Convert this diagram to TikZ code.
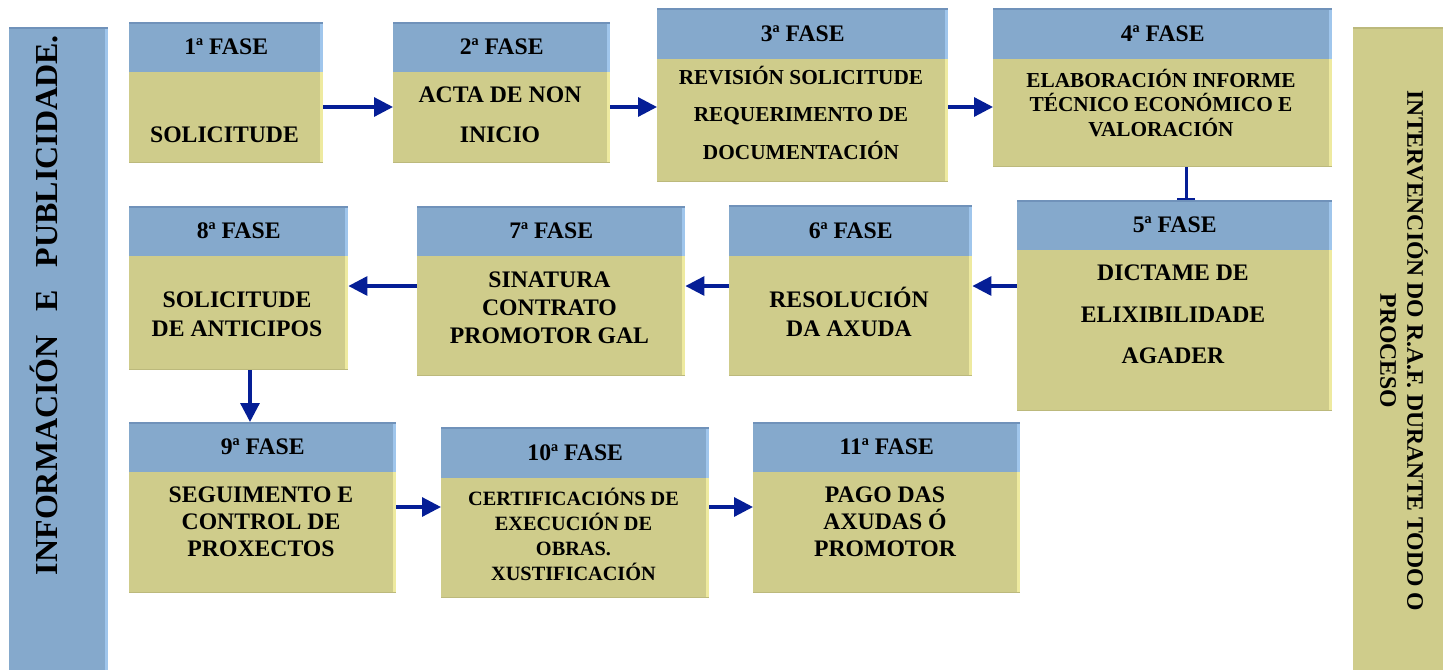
\documentclass[tikz,border=0pt]{standalone}
\usepackage{fontspec}
\setmainfont{Liberation Serif}
\usetikzlibrary{arrows.meta}
\definecolor{hblue}{RGB}{133,169,204}
\definecolor{hbluel}{RGB}{160,198,236}
\definecolor{hblued}{RGB}{112,146,186}
\definecolor{byel}{RGB}{207,204,139}
\definecolor{byell}{RGB}{238,234,160}
\definecolor{byeld}{RGB}{188,185,124}
\definecolor{arrblue}{RGB}{5,30,150}
\newcommand\hfont{\bfseries\fontsize{23.7}{27}\selectfont}
\tikzset{
  hdr/.style={anchor=north west, inner sep=0pt, fill=hblue, text height=15.5pt, text depth=0pt,
    path picture={
      \fill[hbluel] ([xshift=-3pt]path picture bounding box.north east) rectangle (path picture bounding box.south east);
      \fill[hblued] (path picture bounding box.north west) rectangle ([yshift=-1.5pt]path picture bounding box.north east);}},
  bdy/.style={anchor=north west, inner sep=0pt, fill=byel,
    path picture={
      \fill[byell] ([xshift=-3pt]path picture bounding box.north east) rectangle (path picture bounding box.south east);
      \fill[byeld] (path picture bounding box.south west) rectangle ([yshift=1.5pt]path picture bounding box.south east);}},
  lbl/.style={anchor=base, inner sep=0pt},
  arr/.style={draw=arrblue, line width=3.2pt, -{Triangle[length=19pt,width=19pt]}},
  arrbar/.style={draw=arrblue, line width=3pt, -{Bar[width=18pt,line width=2.4pt]}}
}
% name, x1, header top, header bottom, body bottom, x2
\newcommand\fasebox[6]{%
  \node[bdy, minimum width={#6-#2}, minimum height={#5-#4}] (b#1) at (#2,#4) {};
  \node[hdr, minimum width={#6-#2}, minimum height={#4-#3}] (h#1) at (#2,#3) {\hfont #1ª FASE};
}
% name, x, first baseline, skip, font size, lines
\newcommand\blines[6]{%
  \foreach \l [count=\i] in {#6} {\node[lbl, font=\bfseries\fontsize{#5}{#5}\selectfont] (#1-\i) at (#2,{#3+(\i-1)*#4}) {\l};}
}
\begin{document}
\begin{tikzpicture}[x=1pt,y=-1pt]
\useasboundingbox (0,0) rectangle (1443,670);
% side panels
\node[anchor=north west, inner sep=0pt, fill=hblue, minimum width=99pt, minimum height=643pt,
  path picture={\fill[hbluel] ([xshift=-3pt]path picture bounding box.north east) rectangle (path picture bounding box.south east);
  \fill[hblued] (path picture bounding box.north west) rectangle ([yshift=-1.5pt]path picture bounding box.north east);}] (lp) at (9,27) {};
\node[anchor=north west, inner sep=0pt, fill=byel, minimum width=90pt, minimum height=643pt,
  path picture={\fill[byeld] (path picture bounding box.north west) rectangle ([yshift=-1.5pt]path picture bounding box.north east);}] (rp) at (1353,27) {};
\node[rotate=90, anchor=base, inner sep=0pt] (lt) at (57.5,305)
  {\bfseries\fontsize{32}{32}\selectfont\hbox to 540pt{INFORMACIÓN\hfill E\hfill PUBLICIDADE.}};
\node[rotate=-90, anchor=base, inner sep=0pt, font=\hfont] (rt1) at (1407.25,351) {INTERVENCIÓN DO R.A.F. DURANTE TODO O};
\node[rotate=-90, anchor=base, inner sep=0pt, font=\hfont] (rt2) at (1380.25,351) {PROCESO};
% boxes
\fasebox{1}{129}{22}{72}{163}{323}
\fasebox{2}{393}{22}{72}{163}{610}
\fasebox{3}{657}{8}{59}{182}{948}
\fasebox{4}{993}{8}{59}{167}{1332}
\fasebox{5}{1017}{200}{250}{411}{1332}
\fasebox{6}{729}{205}{256}{376}{972}
\fasebox{7}{417}{206}{256}{376}{685}
\fasebox{8}{129}{206}{256}{370}{348}
\fasebox{9}{129}{422}{472}{593}{396}
\fasebox{10}{441}{427}{478}{598}{709}
\fasebox{11}{753}{422}{472}{593}{1020}
% texts
\blines{t1}{224.5}{142.75}{40}{23.7}{SOLICITUDE}
\blines{t2}{500}{102.75}{40}{23.7}{ACTA DE NON, INICIO}
\blines{t3}{801}{84}{37.7}{21.3}{REVISIÓN SOLICITUDE, REQUERIMENTO DE, DOCUMENTACIÓN}
\blines{t4}{1161}{87}{24.75}{21.3}{ELABORACIÓN INFORME, TÉCNICO ECONÓMICO E, VALORACIÓN}
\blines{t5}{1173}{280.75}{41.5}{23.7}{DICTAME DE, ELIXIBILIDADE, AGADER}
\blines{t6}{849}{307.75}{29}{23.7}{RESOLUCIÓN, DA AXUDA}
\blines{t7}{549.5}{287.75}{28}{23.7}{SINATURA, CONTRATO, PROMOTOR GAL}
\blines{t8}{237}{307.75}{29}{23.7}{SOLICITUDE, DE ANTICIPOS}
\blines{t9}{261}{502.75}{27}{23.7}{SEGUIMENTO E, CONTROL DE, PROXECTOS}
\blines{t10}{573.5}{505.65}{24.8}{20.3}{CERTIFICACIÓNS DE, EXECUCIÓN DE, OBRAS., XUSTIFICACIÓN}
\blines{t11}{885}{502.75}{27}{23.7}{PAGO DAS, AXUDAS Ó, PROMOTOR}
% connectors
\draw[arr] (b1.east |- 0,107) -- (b2.west |- 0,107);
\draw[arr] (b2.east |- 0,107) -- (b3.west |- 0,107);
\draw[arr] (b3.east |- 0,107) -- (b4.west |- 0,107);
\draw[arrbar] (b4.south -| 1186,0) -- (h5.north -| 1186,0);
\draw[arr] (b5.west |- 0,286) -- (b6.east |- 0,286);
\draw[arr] (b6.west |- 0,286) -- (b7.east |- 0,286);
\draw[arr] (b7.west |- 0,286) -- (b8.east |- 0,286);
\draw[arr] (b8.south -| 250,0) -- (h9.north -| 250,0);
\draw[arr] (b9.east |- 0,507) -- (b10.west |- 0,507);
\draw[arr] (b10.east |- 0,507) -- (b11.west |- 0,507);
\end{tikzpicture}
\end{document}
